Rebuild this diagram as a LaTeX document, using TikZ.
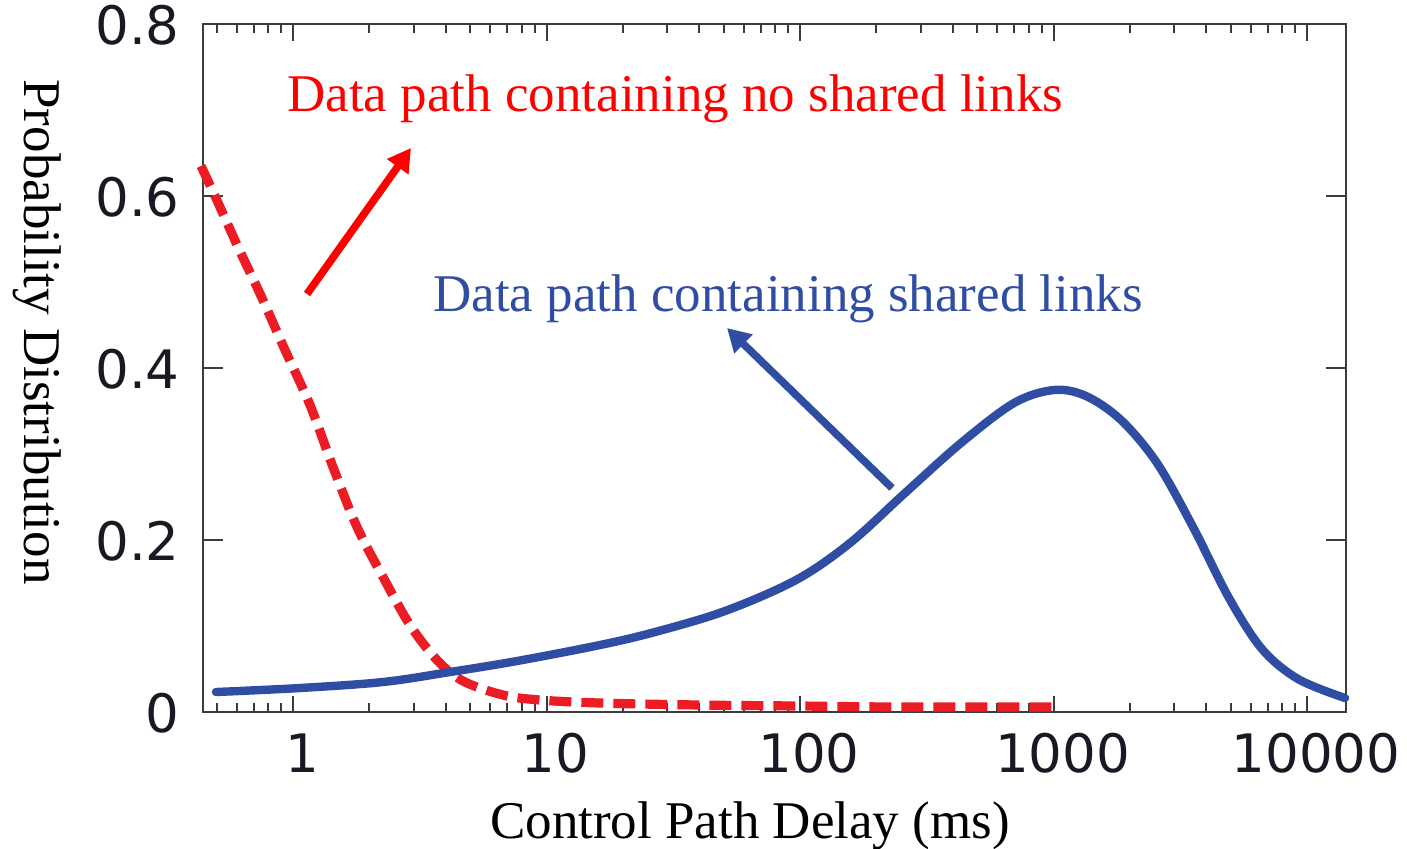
\documentclass[tikz,border=0pt]{standalone}
\usepackage{fontspec}
\setmainfont{Liberation Serif}
\newfontfamily\ticksfont{DejaVu Sans}
\usetikzlibrary{arrows.meta}

\definecolor{curvered}{RGB}{236,28,36}
\definecolor{notered}{RGB}{255,0,0}
\definecolor{curveblue}{RGB}{47,77,162}
\definecolor{axisgray}{RGB}{60,60,60}
\definecolor{ticktext}{RGB}{25,25,35}

\begin{document}
\begin{tikzpicture}[
  x=0.5pt, y=-0.5pt,
  frame/.style={draw=axisgray, line width=1pt},
  tickline/.style={draw=axisgray, line width=1pt},
  ticklabel/.style={inner sep=0pt, text=ticktext, font=\ticksfont\fontsize{26.5}{30}\selectfont},
  axislabel/.style={inner sep=0pt, text=black, font=\fontsize{26.5}{30}\selectfont},
  notelabel/.style={inner sep=0pt, font=\fontsize{26.5}{30}\selectfont},
  redcurve/.style={draw=curvered, line width=4.6pt, dash pattern=on 11pt off 5pt},
  bluecurve/.style={draw=curveblue, line width=4.2pt, line cap=round},
  pointer/.style={line width=3.8pt, -{Triangle[length=11.5pt,width=12.5pt]}}
]
\useasboundingbox (0,0) rectangle (1407,848);

% plot frame: log x axis (1 at 293, 253.5 per decade), linear y axis (0 at 712, 0.2 per 172)
\draw[frame] (203,24) rectangle (1346,712);

% minor x ticks, bottom and top
\foreach \d in {0.1,1,10,100,1000}{
  \foreach \m in {2,...,9}{
    \pgfmathsetmacro\xx{293+253.5*log10(\d*\m)}
    \pgfmathparse{and(\xx>205,\xx<1344)}
    \ifnum\pgfmathresult=1
      \draw[tickline] (\xx,712) -- (\xx,703);
      \draw[tickline] (\xx,24) -- (\xx,33);
    \fi
  }
}
% major x ticks with labels
\foreach \i/\lab in {0/1,1/10,2/100,3/1000,4/10000}{
  \pgfmathsetmacro\xx{293+253.5*\i}
  \draw[tickline] (\xx,712) -- (\xx,696);
  \draw[tickline] (\xx,24) -- (\xx,41);
  \node[ticklabel, anchor=north] (xt\i) at (\xx+9,733) {\lab};
}
% y ticks with labels
\foreach \i/\lab in {0/0,1/0.2,2/0.4,3/0.6,4/0.8}{
  \pgfmathsetmacro\yy{712-172*\i}
  \ifnum\i>0 \ifnum\i<4
    \draw[tickline] (203,\yy) -- (223,\yy);
    \draw[tickline] (1346,\yy) -- (1326,\yy);
  \fi\fi
  \node[ticklabel, anchor=east] (yt\i) at (180,\yy+1) {\lab};
}

% axis titles
\node[axislabel, anchor=base] (xlabel) at (750,838) {Control Path Delay (ms)};
\node[axislabel, rotate=-90, anchor=base] (ylabel) at (25,332) {Probability Distribution};

% data path with no shared links
\draw[redcurve] plot[smooth, tension=0.55] coordinates {
  (201,166) (215,196) (238,247) (262,298) (285,350) (310,405) (333,467)
  (357,527) (383,577) (410,625) (437,660) (463,681) (503,695) (540,700)
  (600,703) (700,705) (800,706) (900,707) (1053,707)};

% data path with shared links
\draw[bluecurve] plot[smooth, tension=0.55] coordinates {
  (216,692) (300,688) (383,682) (450,672) (517,661) (600,645) (655,632)
  (725,611) (796,580) (850,543) (905,493) (961,443) (1014,403) (1054,390)
  (1086,396) (1121,420) (1157,463) (1193,527) (1229,598) (1262,649)
  (1298,679) (1345,698)};

% annotations
\node[notelabel, text=notered, anchor=base west] (rednote) at (287,111) {Data path containing no shared links};
\node[notelabel, text=curveblue, anchor=base west] (bluenote) at (433,311) {Data path containing shared links};

\coordinate (redtail) at (307,294);
\coordinate (redtip) at (411,148);
\coordinate (bluetail) at (892,488);
\coordinate (bluetip) at (727,328);
\draw[pointer, draw=notered, fill=notered] (redtail) -- (redtip);
\draw[pointer, draw=curveblue, fill=curveblue] (bluetail) -- (bluetip);
\end{tikzpicture}
\end{document}
